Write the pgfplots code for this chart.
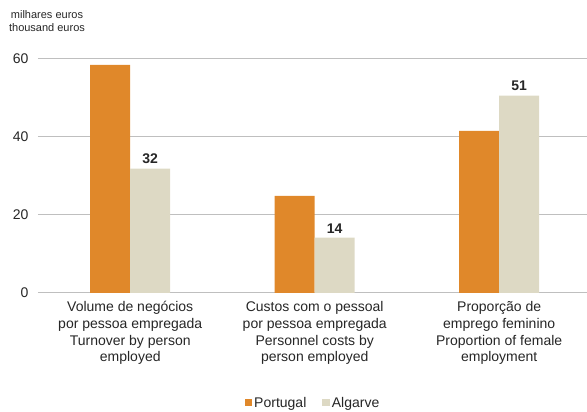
\documentclass[border=0pt]{standalone}
\usepackage{pgfplots}
\pgfplotsset{compat=1.18}
\usepackage{fontspec}
\setmainfont{Liberation Sans}
\definecolor{ptorange}{HTML}{E0882A}
\definecolor{algbeige}{HTML}{DDD9C4}
\definecolor{gridgray}{HTML}{BFBFBF}
\definecolor{txt}{HTML}{262626}
\begin{document}
\begin{tikzpicture}[x=1pt,y=1pt]
\path[use as bounding box] (0,0) rectangle (587,412);
\node[font=\fontsize{11}{13.3}\selectfont, align=center, text=txt, inner sep=0] at (47,391) {milhares euros\\thousand euros};
\begin{axis}[
  at={(38pt,119pt)}, anchor=south west,
  scale only axis, width=549pt, height=234pt,
  xmin=-0.5, xmax=2.476, ymin=0, ymax=60,
  ybar=0pt, bar width=40pt,
  clip=false,
  axis line style={draw=none},
  ytick={0,20,40,60},
  ymajorgrids, grid style={gridgray, line width=1pt},
  major tick length=0pt,
  /pgf/number format/assume math mode=true,
  yticklabel style={font=\fontsize{14}{14}\selectfont, text=txt, xshift=-6pt},
  xtick={0,1,2},
  xticklabels={{Volume de negócios\\por pessoa empregada\\Turnover by person\\employed},
               {Custos com o pessoal\\por pessoa empregada\\Personnel costs by\\person employed},
               {Proporção de\\emprego feminino\\Proportion of female\\employment}},
  xticklabel style={align=center, font=\fontsize{14}{16.7}\selectfont, text=txt, yshift=-5pt},
  every axis plot post/.append style={legend image code/.code={\fill[##1] (0pt,-3.5pt) rectangle (7.5pt,4pt);}},
  legend style={at={(0.501,-0.47)}, anchor=center, draw=none, legend columns=2,
    font=\fontsize{14}{14}\selectfont, text=txt,
    /tikz/every even column/.append style={column sep=14pt}},
]
\addplot[fill=ptorange, draw=none] coordinates {(0,58.5) (1,24.9) (2,41.6)};
\addlegendentry{Portugal}
\addplot[fill=algbeige, draw=none, point meta=explicit symbolic,
  nodes near coords, every node near coord/.append style={font=\bfseries\fontsize{14}{14}\selectfont, text=txt, yshift=1pt}]
  coordinates {(0,31.9) [32] (1,14.2) [14] (2,50.6) [51]};
\addlegendentry{Algarve}
\end{axis}
\end{tikzpicture}
\end{document}
